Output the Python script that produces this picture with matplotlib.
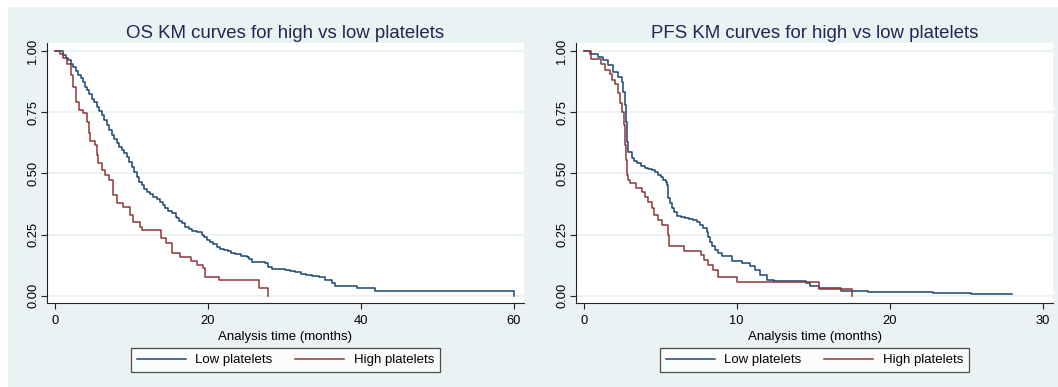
import matplotlib
matplotlib.use('Agg')
import matplotlib.pyplot as plt
from matplotlib.patches import Rectangle

plt.rcParams['font.family'] = ['Liberation Sans', 'DejaVu Sans']

# OS curves (time in months, survival probability)
os_low_t = [0, 1.13, 1.48, 1.78, 2.09, 2.43, 2.78, 3.09, 3.40, 3.74,
            3.96, 4.18, 4.53, 4.83, 5.14, 5.49, 5.83, 6.14, 6.44, 6.8,
            7.14, 7.45, 7.75, 8.1, 8.45, 8.76, 9.06, 9.41, 9.75, 10.07,
            10.37, 10.72, 11.06, 11.37, 11.67, 12.03, 12.46, 12.89, 13.33, 13.76,
            14.12, 14.42, 14.85, 15.29, 15.86, 16.0, 16.3, 16.6, 17.0, 17.5,
            18.0, 18.6, 19.2, 19.55, 19.9, 20.3, 20.7, 21.2, 21.6, 22.2,
            22.7, 23.1, 23.6, 24.4, 25.1, 25.4, 25.8, 26.6, 27.5, 27.9,
            28.4, 29.2, 30.1, 30.8, 31.4, 32.2, 32.9, 33.7, 34.5, 35.3,
            36.2, 36.6, 39.5, 41.9, 60.0]
os_low_s = [1.0, 0.983, 0.972, 0.963, 0.949, 0.935, 0.918, 0.902, 0.888, 0.874,
            0.854, 0.840, 0.823, 0.806, 0.790, 0.772, 0.754, 0.738, 0.718, 0.697,
            0.677, 0.656, 0.639, 0.623, 0.609, 0.595, 0.582, 0.568, 0.547, 0.527,
            0.507, 0.486, 0.466, 0.452, 0.436, 0.425, 0.414, 0.404, 0.395, 0.384,
            0.370, 0.357, 0.346, 0.337, 0.323, 0.316, 0.306, 0.296, 0.282, 0.271,
            0.266, 0.262, 0.248, 0.239, 0.228, 0.218, 0.211, 0.200, 0.190, 0.187,
            0.184, 0.176, 0.169, 0.162, 0.159, 0.149, 0.139, 0.136, 0.132, 0.118,
            0.109, 0.108, 0.105, 0.100, 0.096, 0.089, 0.085, 0.080, 0.075, 0.064,
            0.051, 0.040, 0.030, 0.020, 0.0]

os_high_t = [0, 0.69, 1.12, 1.65, 2.09, 2.43, 2.78, 3.22, 3.74, 4.18,
             4.53, 4.61, 5.27, 5.49, 5.70, 6.14, 6.58, 7.14, 7.66, 8.19,
             8.97, 9.84, 10.27, 11.15, 11.37, 13.95, 14.6, 15.3, 16.4, 17.85,
             18.6, 19.4, 19.6, 21.45, 26.65, 27.9]
os_high_s = [1.0, 0.986, 0.970, 0.949, 0.902, 0.854, 0.793, 0.759, 0.745, 0.711,
             0.663, 0.632, 0.616, 0.575, 0.541, 0.513, 0.493, 0.473, 0.411, 0.377,
             0.364, 0.330, 0.302, 0.282, 0.268, 0.234, 0.217, 0.173, 0.157, 0.141,
             0.125, 0.112, 0.076, 0.064, 0.030, 0.0]

# PFS curves
pfs_low_t = [0, 0.42, 0.96, 1.29, 1.61, 1.94, 2.27, 2.49, 2.6, 2.7,
             2.77, 2.84, 2.92, 3.14, 3.31, 3.46, 3.75, 4.01, 4.23, 4.45,
             4.67, 4.88, 5.06, 5.21, 5.36, 5.43, 5.54, 5.65, 5.75, 5.91,
             6.08, 6.37, 6.63, 6.91, 7.17, 7.39, 7.61, 7.82, 8.04, 8.15,
             8.26, 8.37, 8.59, 8.8, 9.05, 9.7, 10.35, 10.9, 11.2, 11.55,
             11.99, 12.42, 14.5, 14.8, 15.4, 16.8, 18.6, 22.8, 25.3, 28.0]
pfs_low_s = [1.0, 0.986, 0.976, 0.963, 0.942, 0.915, 0.895, 0.874, 0.833, 0.779,
             0.711, 0.629, 0.588, 0.561, 0.550, 0.541, 0.530, 0.520, 0.518, 0.513,
             0.507, 0.493, 0.484, 0.473, 0.466, 0.452, 0.398, 0.377, 0.357, 0.341,
             0.327, 0.322, 0.319, 0.315, 0.309, 0.300, 0.289, 0.275, 0.261, 0.241,
             0.221, 0.203, 0.187, 0.176, 0.163, 0.143, 0.132, 0.121, 0.105, 0.085,
             0.064, 0.058, 0.053, 0.040, 0.030, 0.020, 0.016, 0.010, 0.006, 0.006]

pfs_high_t = [0, 0.48, 1.13, 1.4, 1.72, 1.83, 2.05, 2.22, 2.38, 2.49,
              2.64, 2.7, 2.77, 2.84, 2.92, 3.03, 3.42, 3.84, 4.01, 4.23,
              4.45, 4.62, 4.88, 5.1, 5.49, 5.58, 6.58, 7.67, 7.89, 8.15,
              8.48, 8.78, 10.0, 15.36, 17.54]
pfs_high_s = [1.0, 0.967, 0.949, 0.922, 0.908, 0.881, 0.867, 0.827, 0.786, 0.752,
              0.697, 0.616, 0.554, 0.493, 0.473, 0.459, 0.441, 0.425, 0.404, 0.384,
              0.357, 0.330, 0.309, 0.289, 0.248, 0.202, 0.182, 0.166, 0.146, 0.125,
              0.105, 0.075, 0.055, 0.027, 0.0]

titles = ['OS KM curves for high vs low platelets', 'PFS KM curves for high vs low platelets']
series_labels = ['Low platelets', 'High platelets']
yticks = [0, 0.25, 0.5, 0.75, 1.0]
xticks_os = [0, 20, 40, 60]
xticks_pfs = [0, 10, 20, 30]

BG = '#eaf2f3'
BLUE = '#1a476f'
RED = '#90353b'
W, H = 1058, 387

fig = plt.figure(figsize=(W / 100, H / 100), dpi=100)
fig.patch.set_facecolor(BG)
# white strips along the top and left edges
fig.patches.append(Rectangle((0, 1 - 7 / H), 1, 7 / H, transform=fig.transFigure,
                             facecolor='white', edgecolor='none', zorder=-10))
fig.patches.append(Rectangle((0, 0), 8 / W, 1, transform=fig.transFigure,
                             facecolor='white', edgecolor='none', zorder=-10))


def make_panel(left_px, title, low_t, low_s, high_t, high_s, xticks, xlim):
    ax = fig.add_axes([left_px / W, (H - 303) / H, 477 / W, 260 / H])
    ax.set_facecolor('white')
    for y in yticks:
        ax.axhline(y, color=BG, lw=1.3, zorder=1)
    ax.plot(low_t, low_s, drawstyle='steps-post', color=BLUE, lw=1.1, label=series_labels[0], zorder=3)
    ax.plot(high_t, high_s, drawstyle='steps-post', color=RED, lw=1.1, label=series_labels[1], zorder=3)
    ax.set_xlim(*xlim)
    ax.set_ylim(-0.030, 1.033)
    ax.set_xticks(xticks)
    ax.set_yticks(yticks)
    ax.set_yticklabels(['%.2f' % v for v in yticks], rotation=90, va='center')
    for s in ['top', 'right']:
        ax.spines[s].set_visible(False)
    for s in ['left', 'bottom']:
        ax.spines[s].set_color('#222222')
        ax.spines[s].set_linewidth(0.8)
    ax.tick_params(direction='out', length=4, width=0.8, color='#222222', labelsize=9.3)
    ax.tick_params(axis='x', pad=4.5)
    ax.tick_params(axis='y', pad=1.5)
    ax.set_xlabel('Analysis time (months)', fontsize=9.5, va='top')
    ax.xaxis.set_label_coords(0.5, (303 - 331) / 260)
    ax.text(0.5, 1 + (43 - 37.5) / 260, title, transform=ax.transAxes, ha='center',
            va='baseline', fontsize=13.4, color='#1b2a52')
    leg = ax.legend(loc='center', bbox_to_anchor=(0.5, (303 - 360) / 260), ncol=2,
                    fontsize=9.5, frameon=True, fancybox=False, edgecolor='#222222',
                    handlelength=3.7, handletextpad=0.7, columnspacing=1.75, borderpad=0.45)
    leg.get_frame().set_linewidth(0.9)
    return ax


make_panel(47, titles[0], os_low_t, os_low_s, os_high_t, os_high_s, xticks_os, (-1.0, 61.35))
make_panel(576, titles[1], pfs_low_t, pfs_low_s, pfs_high_t, pfs_high_s, xticks_pfs, (-0.5, 30.67))

fig.savefig('out.png', dpi=100, facecolor=BG)
